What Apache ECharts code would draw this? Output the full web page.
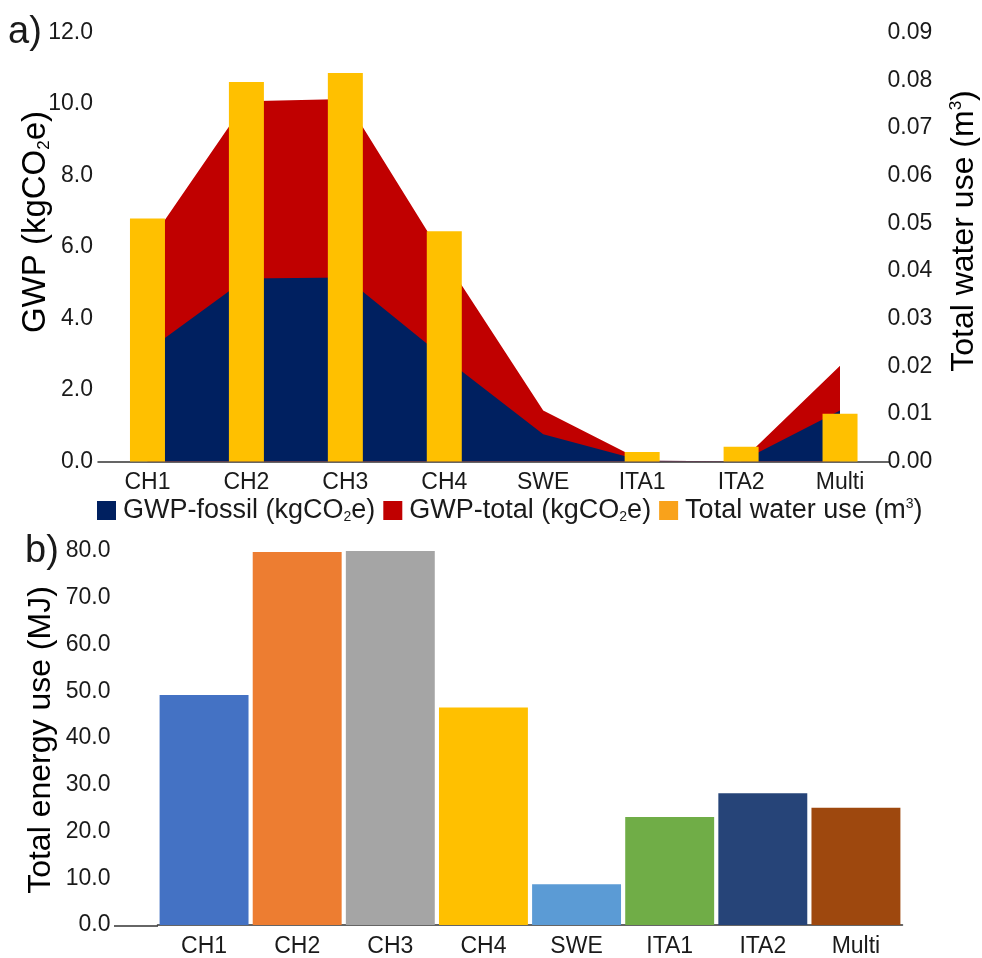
<!DOCTYPE html>
<html>
<head>
<meta charset="utf-8">
<script src="https://cdn.jsdelivr.net/npm/echarts@6/dist/echarts.min.js"></script>
<style>
  html, body { margin: 0; padding: 0; background: #ffffff; }
  #chart { width: 982px; height: 958px; }
</style>
</head>
<body>
<div id="chart"></div>
<script>
// Sites compared in both panels
const categories = ['CH1', 'CH2', 'CH3', 'CH4', 'SWE', 'ITA1', 'ITA2', 'Multi'];

// Panel a: global warming potential (kgCO2e) and water use (m3)
const gwpTotal  = [6.05, 10.08, 10.14, 5.68, 1.43, 0.02, 0.01, 2.68];
const gwpFossil = [3.10, 5.12, 5.15, 2.90, 0.76, 0.02, 0.01, 1.43];
const waterUse  = [0.0510, 0.0796, 0.0815, 0.0483, 0, 0.0020, 0.0031, 0.0100];

// Panel b: total energy use (MJ)
const energyUse = [49.2, 79.8, 80.1, 46.5, 8.7, 23.1, 28.2, 25.1];

// Axis ranges
const gwpAxis   = { min: 0, max: 12, interval: 2 };
const waterAxis = { min: 0, max: 0.09, interval: 0.01 };
const energyAxis = { min: 0, max: 80, interval: 10 };

const FONT = '"Liberation Sans", Arial, Helvetica, sans-serif';
const INK = '#1a1a1a';
const AXIS = '#333333';
const TICK_SIZE = 23;

const energyColors = ['#4472C4', '#ED7D31', '#A5A5A5', '#FFC000', '#5B9BD5', '#70AD47', '#264478', '#9E480E'];
const C_FOSSIL = '#002060';
const C_TOTAL = '#C00000';
const C_WATER = '#FFC000';
const C_WATER_KEY = '#F9A21B';

const chart = echarts.init(document.getElementById('chart'), null, { renderer: 'canvas' });

const legendRich = {
  t: { fontFamily: FONT, fontSize: 27, color: INK },
  s: { fontFamily: FONT, fontSize: 14, color: INK, verticalAlign: 'bottom', padding: [12, 0, 0, 0] },
  p: { fontFamily: FONT, fontSize: 14, color: INK, verticalAlign: 'top', padding: [0, 0, 12, 0] }
};
function titleRich(size) {
  const small = Math.round(size * 0.52);
  return {
    t: { fontFamily: FONT, fontSize: size, color: INK },
    s: { fontFamily: FONT, fontSize: small, color: INK, verticalAlign: 'bottom', padding: [Math.round(size * 0.38), 0, 0, 0] },
    p: { fontFamily: FONT, fontSize: small, color: INK, verticalAlign: 'top', padding: [0, 0, Math.round(size * 0.38), 0] }
  };
}

const legendLabels = {
  'GWP-fossil': '{t|GWP-fossil (kgCO}{s|2}{t|e)}',
  'GWP-total': '{t|GWP-total (kgCO}{s|2}{t|e)}',
  'Total water use': '{t|Total water use (m}{p|3}{t|)}'
};

const tickLabel = function (digits, margin) {
  return {
    color: INK, fontFamily: FONT, fontSize: TICK_SIZE, margin: margin,
    formatter: function (v) { return v.toFixed(digits); }
  };
};

const option = {
  backgroundColor: '#ffffff',
  animation: false,
  grid: [
    { left: 98, top: 32.5, width: 791.5, height: 429 },
    { left: 157.5, top: 551, width: 745, height: 375 }
  ],
  legend: {
    left: 92,
    top: 492,
    itemWidth: 19,
    itemHeight: 19,
    itemGap: 8,
    icon: 'rect',
    data: [
      { name: 'GWP-fossil', itemStyle: { color: C_FOSSIL } },
      { name: 'GWP-total', itemStyle: { color: C_TOTAL } },
      { name: 'Total water use', itemStyle: { color: C_WATER_KEY } }
    ],
    formatter: function (name) { return legendLabels[name]; },
    textStyle: { rich: legendRich, padding: [0, 0, 0, 2] },
    selectedMode: false
  },
  xAxis: [
    {
      type: 'category', gridIndex: 0, data: categories, boundaryGap: true,
      axisLine: { lineStyle: { color: AXIS, width: 1.5 } },
      axisTick: { show: false },
      axisLabel: { color: INK, fontFamily: FONT, fontSize: TICK_SIZE, margin: 10 }
    },
    {
      type: 'category', gridIndex: 1, data: categories, boundaryGap: true,
      axisLine: { lineStyle: { color: AXIS, width: 1.5 } },
      axisTick: { show: false },
      axisLabel: { color: INK, fontFamily: FONT, fontSize: TICK_SIZE, margin: 10 }
    }
  ],
  yAxis: [
    {
      type: 'value', gridIndex: 0, position: 'left',
      min: gwpAxis.min, max: gwpAxis.max, interval: gwpAxis.interval,
      axisLine: { show: false }, axisTick: { show: false }, splitLine: { show: false },
      axisLabel: tickLabel(1, 5)
    },
    {
      type: 'value', gridIndex: 0, position: 'right',
      min: waterAxis.min, max: waterAxis.max, interval: waterAxis.interval,
      axisLine: { show: false }, axisTick: { show: false }, splitLine: { show: false },
      axisLabel: tickLabel(2, -2)
    },
    {
      type: 'value', gridIndex: 1, position: 'left',
      min: energyAxis.min, max: energyAxis.max, interval: energyAxis.interval,
      axisLine: { show: false }, axisTick: { show: false }, splitLine: { show: false },
      axisLabel: tickLabel(1, 47)
    }
  ],
  series: [
    {
      name: 'GWP-total', type: 'line', xAxisIndex: 0, yAxisIndex: 0,
      data: gwpTotal, symbol: 'none', z: 2,
      lineStyle: { width: 0, color: C_TOTAL }, itemStyle: { color: C_TOTAL },
      areaStyle: { color: C_TOTAL, opacity: 1 }
    },
    {
      name: 'GWP-fossil', type: 'line', xAxisIndex: 0, yAxisIndex: 0,
      data: gwpFossil, symbol: 'none', z: 3,
      lineStyle: { width: 0, color: C_FOSSIL }, itemStyle: { color: C_FOSSIL },
      areaStyle: { color: C_FOSSIL, opacity: 1 }
    },
    {
      name: 'Total water use', type: 'bar', xAxisIndex: 0, yAxisIndex: 1,
      data: waterUse, barWidth: 35, z: 4,
      itemStyle: { color: C_WATER }
    },
    {
      name: 'Total energy use', type: 'bar', xAxisIndex: 1, yAxisIndex: 2,
      barCategoryGap: '4.5%',
      data: energyUse.map(function (v, i) {
        return { value: v, itemStyle: { color: energyColors[i] } };
      })
    }
  ],
  graphic: [
    // panel tags
    { type: 'text', left: 8, top: 14, style: { text: 'a)', font: '38px ' + FONT, fill: INK } },
    { type: 'text', left: 25, top: 533, style: { text: 'b)', font: '38px ' + FONT, fill: INK } },
    // axis titles
    {
      type: 'text', x: 36, y: 222, rotation: Math.PI / 2,
      style: { text: '{t|GWP (kgCO}{s|2}{t|e)}', rich: titleRich(33), align: 'center', verticalAlign: 'middle' }
    },
    {
      type: 'text', x: 964, y: 231, rotation: Math.PI / 2,
      style: { text: '{t|Total water use (m}{p|3}{t|)}', rich: titleRich(32), align: 'center', verticalAlign: 'middle' }
    },
    {
      type: 'text', x: 41, y: 740, rotation: Math.PI / 2,
      style: { text: '{t|Total energy use (MJ)}', rich: titleRich(32), align: 'center', verticalAlign: 'middle' }
    },
    // lower axis line continues left to the value labels
    {
      type: 'line', shape: { x1: 114, y1: 926, x2: 158, y2: 926 },
      style: { stroke: AXIS, lineWidth: 1.5 }
    }
  ]
};

chart.setOption(option);
</script>
</body>
</html>
